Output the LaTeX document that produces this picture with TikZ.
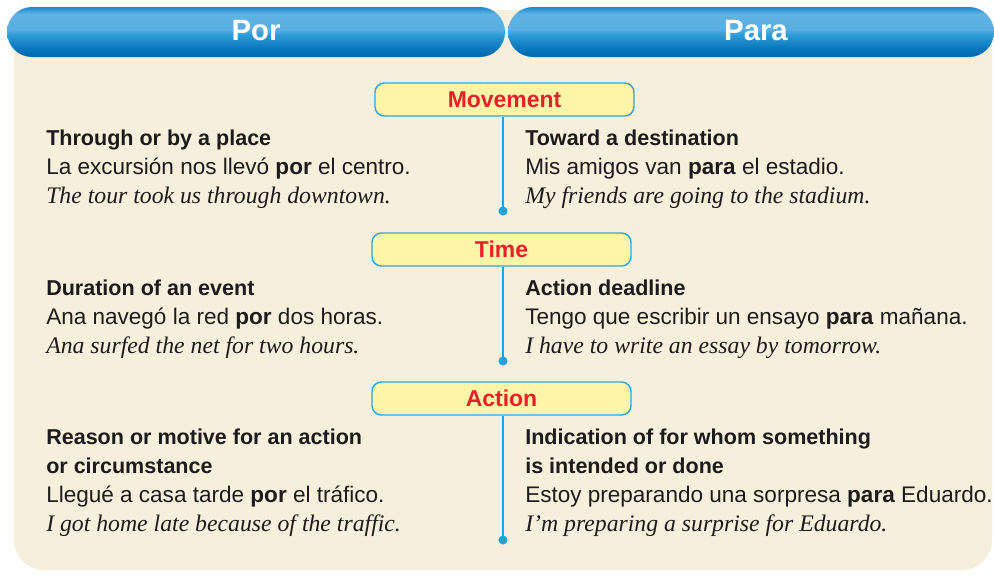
\documentclass[tikz,border=0pt]{standalone}
\usepackage{fontspec}
\setmainfont{Liberation Sans}
\newfontfamily\serf{Liberation Serif}
\definecolor{cream}{HTML}{F5EFDC}
\definecolor{ink}{HTML}{1E1B1C}
\definecolor{lblfill}{HTML}{FFF5A8}
\definecolor{lbldraw}{HTML}{2FA9E0}
\definecolor{lblred}{HTML}{E8202A}
\definecolor{conn}{HTML}{1FA3DD}
\definecolor{pA}{HTML}{0067AB}
\definecolor{pB}{HTML}{0B79BF}
\definecolor{pC}{HTML}{2E9AD8}
\definecolor{pD}{HTML}{5AAFE2}
\definecolor{pE}{HTML}{5EB2E4}
\definecolor{pF}{HTML}{1E88CB}
\pgfdeclareverticalshading{pillshade}{100bp}{color(0bp)=(pA); color(25bp)=(pA); color(35bp)=(pB); color(47bp)=(pC); color(53bp)=(pD); color(68bp)=(pE); color(75bp)=(pF); color(100bp)=(pF)}
\begin{document}
\begin{tikzpicture}[x=0.75pt,y=-0.75pt,
  pill/.style={shading=pillshade, rounded corners=18.75pt},
  pilltext/.style={anchor=base, inner sep=0pt, text=white, font=\fontsize{22}{26}\selectfont\bfseries},
  lbl/.style={draw=lbldraw, line width=1.1pt, fill=lblfill, rounded corners=7pt, minimum width=194.25pt, minimum height=24.75pt, inner sep=0pt, text=lblred, font=\fontsize{17.2}{20}\selectfont\bfseries},
  conline/.style={draw=conn, line width=1.2pt},
  dotc/.style={fill=conn},
  txt/.style={anchor=base west, inner sep=0pt, text=ink, font=\fontsize{16.9}{20}\selectfont},
  hd/.style={txt, font=\fontsize{16.15}{20}\selectfont\bfseries},
  itl/.style={txt, font=\fontsize{17.8}{22}\selectfont\serf\itshape}
]
\useasboundingbox (0,0) rectangle (994,575);
\fill[cream, rounded corners=22.5pt] (14,10) rectangle (992,570);
% header pills
\path[pill] (7,7) rectangle (505,57);
\path[pill] (508,7) rectangle (994,57);
\node[pilltext] (por) at (256,40) {Por};
\node[pilltext] (para) at (756,40) {Para};
% labels
\node[lbl] (m1) at (504.5,99.5) {Movement};
\node[lbl] (m2) at (501.5,249.5) {Time};
\node[lbl] (m3) at (501.5,398.5) {Action};
\coordinate (d1) at (503,211);
\coordinate (d2) at (503,361);
\coordinate (d3) at (503,540);
\draw[conline] (d1 |- m1.south) -- (d1);
\draw[conline] (d2 |- m2.south) -- (d2);
\draw[conline] (d3 |- m3.south) -- (d3);
\fill[dotc] (d1) circle (3.4pt);
\fill[dotc] (d2) circle (3.4pt);
\fill[dotc] (d3) circle (3.4pt);
% row 1
\node[hd] (a1) at (46,145) {Through or by a place};
\node[txt] (a2) at (46,174) {La excursión nos llevó \textbf{por} el centro.};
\node[itl] (a3) at (46,203) {The tour took us through downtown.};
\node[hd] (b1) at (525,145) {Toward a destination};
\node[txt] (b2) at (525,174) {Mis amigos van \textbf{para} el estadio.};
\node[itl] (b3) at (525,203) {My friends are going to the stadium.};
% row 2
\node[hd] (a4) at (46,295) {Duration of an event};
\node[txt] (a5) at (46,324) {Ana navegó la red \textbf{por} dos horas.};
\node[itl] (a6) at (46,353) {Ana surfed the net for two hours.};
\node[hd] (b4) at (525,295) {Action deadline};
\node[txt] (b5) at (525,324) {Tengo que escribir un ensayo \textbf{para} mañana.};
\node[itl] (b6) at (525,353) {I have to write an essay by tomorrow.};
% row 3
\node[hd] (a7) at (46,444) {Reason or motive for an action};
\node[hd] (a8) at (46,473) {or circumstance};
\node[txt] (a9) at (46,502) {Llegué a casa tarde \textbf{por} el tráfico.};
\node[itl] (a10) at (46,531) {I got home late because of the traffic.};
\node[hd] (b7) at (525,444) {Indication of for whom something};
\node[hd] (b8) at (525,473) {is intended or done};
\node[txt] (b9) at (525,502) {Estoy preparando una sorpresa \textbf{para} Eduardo.};
\node[itl] (b10) at (525,531) {I’m preparing a surprise for Eduardo.};
\end{tikzpicture}
\end{document}
